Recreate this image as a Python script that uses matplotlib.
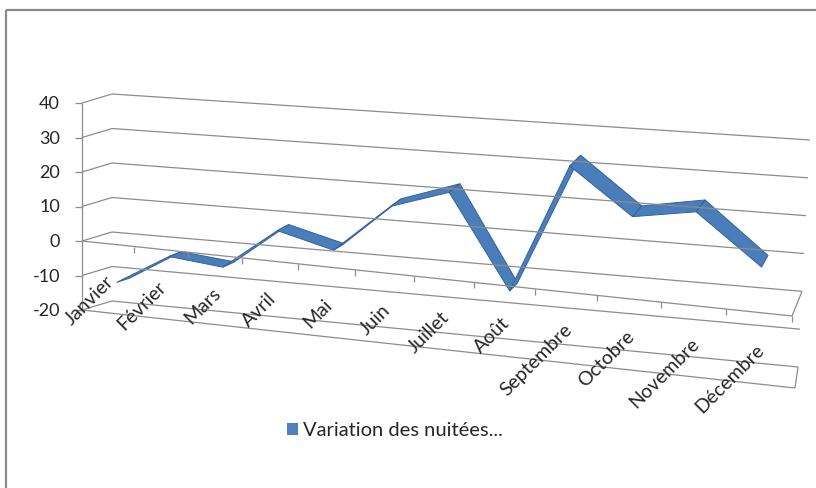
import numpy as np
import matplotlib.pyplot as plt
from matplotlib.patches import Polygon, Rectangle

months = ["Janvier", "Février", "Mars", "Avril", "Mai", "Juin", "Juillet",
          "Août", "Septembre", "Octobre", "Novembre", "Décembre"]
variation = [-12, -3, -4.5, 7.5, 3.5, 17.5, 23, -3, 33.5, 21, 24, 10.5]
y_ticks = [-20, -10, 0, 10, 20, 30, 40]
series_name = "Variation des nuitées..."

V_MIN, V_MAX = -20, 40

# coins de la boîte 3D en pixels (plan avant / plan arrière)
FRONT = {"lb": (82, 310), "lt": (82, 103), "rb": (795, 388), "rt": (786, 172)}
BACK = {"lb": (112, 301), "lt": (112, 94), "rb": (798, 367), "rt": (810, 140)}

GRID = "#8c8c8c"
TEXT = "#262626"
BLUE = "#4A7EBB"
BLUE_EDGE = "#34629a"

plt.rcParams['font.family'] = ['Lato', 'DejaVu Sans']


def warp(i):
    # perspective : les catégories s'élargissent vers la droite
    n = len(months)
    return (51.5 * i + 0.64 * i * i) / (51.5 * n + 0.64 * n * n)


def plane(c, u, w):
    lb, lt, rb, rt = (np.array(c[k], float) for k in ("lb", "lt", "rb", "rt"))
    left = lb + (lt - lb) * w
    right = rb + (rt - rb) * w
    return left + (right - left) * u


def proj(i, v, d=0.0):
    u = warp(i)
    w = (v - V_MIN) / (V_MAX - V_MIN)
    f = plane(FRONT, u, w)
    b = plane(BACK, u, w)
    return f + (b - f) * d


def seg(p, q, **kw):
    ax.plot([p[0], q[0]], [p[1], q[1]], solid_capstyle="butt", **kw)


fig = plt.figure(figsize=(8.16, 4.88), dpi=100)
ax = fig.add_axes([0, 0, 1, 1])
ax.set_xlim(0, 816)
ax.set_ylim(488, 0)
ax.axis("off")

# cadre du graphique
ax.add_patch(Rectangle((6, 10), 900, 600, fill=False, ec="#8a8a8a", lw=1.6))

n = len(months)
gl = dict(color=GRID, lw=0.9)

# quadrillage : paroi arrière et paroi latérale
for v in y_ticks:
    seg(proj(0, v, 1), proj(n, v, 1), **gl)
    seg(proj(0, v, 0), proj(0, v, 1), **gl)
    p = proj(0, v, 0)
    seg(p, p + np.array([-7, 0]), **gl)
    ax.text(p[0] - 22, p[1] + 1, str(v), ha="right", va="center",
            fontsize=13, color=TEXT)

# axe vertical
seg(proj(0, V_MIN, 0), proj(0, V_MAX, 0), **gl)

# plancher à 0 et bord inférieur
seg(proj(0, 0, 0), proj(n, 0, 0), **gl)
seg(proj(n, 0, 0), proj(n, 0, 1), **gl)
seg(proj(0, V_MIN, 0), proj(n, V_MIN, 0), **gl)
seg(proj(n, V_MIN, 0), proj(n, V_MIN, 1), **gl)

# graduations et étiquettes des catégories
for k in range(1, n + 1):
    p = proj(k, 0, 0)
    seg(p, p + np.array([0, 6]), **gl)
for k, name in enumerate(months):
    p = proj(k + 0.5, 0, 0)
    ax.text(p[0] - 3, p[1] + 29, name, rotation=45, rotation_mode="anchor",
            ha="right", va="top", fontsize=14, color=TEXT)

# ruban 3D de la série
d0, d1 = 0.3, 0.75
for k in range(n - 1):
    a0 = proj(k + 0.5, variation[k], d0)
    b0 = proj(k + 1.5, variation[k + 1], d0)
    b1 = proj(k + 1.5, variation[k + 1], d1)
    a1 = proj(k + 0.5, variation[k], d1)
    ax.add_patch(Polygon([a0, b0, b1, a1], closed=True, fc=BLUE,
                         ec=BLUE_EDGE, lw=0.7, joinstyle="round"))

# légende
ax.add_patch(Rectangle((287, 423), 11, 12, fc="#4F81BD", ec="none"))
ax.text(303, 430, series_name, ha="left", va="center", fontsize=14.5, color=TEXT)

fig.savefig("out.png", dpi=100)
